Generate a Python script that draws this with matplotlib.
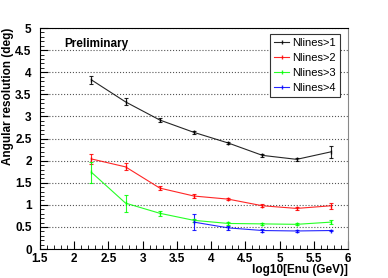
import numpy as np
import matplotlib
matplotlib.use("Agg")
import matplotlib.pyplot as plt
from matplotlib.ticker import MultipleLocator, FormatStrFormatter
from matplotlib.lines import Line2D

plt.rcParams["font.family"] = ["Liberation Sans", "DejaVu Sans"]

# log10 energy bin centres
x = [2.25, 2.75, 3.25, 3.75, 4.25, 4.75, 5.25, 5.75]
res_n1 = [3.83, 3.33, 2.92, 2.64, 2.40, 2.12, 2.03, 2.20]
err_n1 = [0.09, 0.08, 0.05, 0.04, 0.03, 0.04, 0.04, 0.14]
res_n2 = [2.04, 1.86, 1.38, 1.20, 1.13, 0.98, 0.92, 0.98]
err_n2 = [0.11, 0.08, 0.05, 0.04, 0.03, 0.03, 0.04, 0.07]
res_n3 = [1.74, 1.04, 0.81, 0.65, 0.58, 0.57, 0.56, 0.61]
err_n3 = [0.24, 0.19, 0.06, 0.04, 0.03, 0.02, 0.02, 0.05]
x_n4 = [3.75, 4.25, 4.75, 5.25, 5.75]
res_n4 = [0.61, 0.48, 0.42, 0.41, 0.42]
err_n4 = [0.18, 0.05, 0.03, 0.02, 0.02]

labels = ["Nlines>1", "Nlines>2", "Nlines>3", "Nlines>4"]
colors = ["black", "#ff0000", "#00ff00", "#0000ff"]

fig = plt.figure(figsize=(3.88, 2.78), dpi=100)
ax = fig.add_axes([0.103, 0.104, 0.794, 0.795])

series = [(x, res_n1, err_n1), (x, res_n2, err_n2), (x, res_n3, err_n3), (x_n4, res_n4, err_n4)]
for (xs, ys, es), c in zip(series, colors):
    ax.errorbar(xs, ys, yerr=es, color=c, lw=0.8, elinewidth=0.8, capsize=1.5,
                capthick=0.8, marker="|", ms=3, alpha=0.85)

ax.set_xlim(1.5, 6)
ax.set_ylim(0, 5)
ax.xaxis.set_major_locator(MultipleLocator(0.5))
ax.xaxis.set_minor_locator(MultipleLocator(0.1))
ax.yaxis.set_major_locator(MultipleLocator(0.5))
ax.yaxis.set_minor_locator(MultipleLocator(0.1))
ax.xaxis.set_major_formatter(FormatStrFormatter("%g"))
ax.yaxis.set_major_formatter(FormatStrFormatter("%g"))
ax.tick_params(which="both", direction="in", top=False, right=False, labelsize=8.5)
ax.tick_params(which="major", length=6, width=0.8)
ax.tick_params(which="minor", length=3, width=0.6)
ax.tick_params(axis="x", which="major", pad=2.5)
ax.tick_params(axis="y", which="major", pad=6)
for lab in ax.get_xticklabels() + ax.get_yticklabels():
    lab.set_fontweight("bold")
ax.yaxis.grid(True, ls=":", color="#555555", lw=0.8)

ax.set_ylabel("Angular resolution (deg)", fontsize=8.5, fontweight="bold", loc="top", labelpad=1)
ax.set_xlabel("log10[Enu (GeV)]", fontsize=8.5, fontweight="bold", loc="right")
ax.xaxis.set_label_coords(1.0, -0.066)
ax.text(0.08, 0.955, "Preliminary", transform=ax.transAxes, fontsize=8.5,
        fontweight="bold", va="top")

handles = [Line2D([0], [0], color=c, lw=0.8, marker="|", ms=3, alpha=0.85) for c in colors]
leg = ax.legend(handles, labels, loc="upper right", bbox_to_anchor=(0.975, 0.975), fontsize=8,
                fancybox=False, edgecolor="#333333", framealpha=1,
                handlelength=1.3, handletextpad=0.3, labelspacing=0.45,
                borderpad=0.4, borderaxespad=0)
leg.get_frame().set_linewidth(0.8)
for sp in ax.spines.values():
    sp.set_linewidth(0.8)
ax.spines["right"].set_color("#888888")

fig.savefig("out.png", dpi=100)
